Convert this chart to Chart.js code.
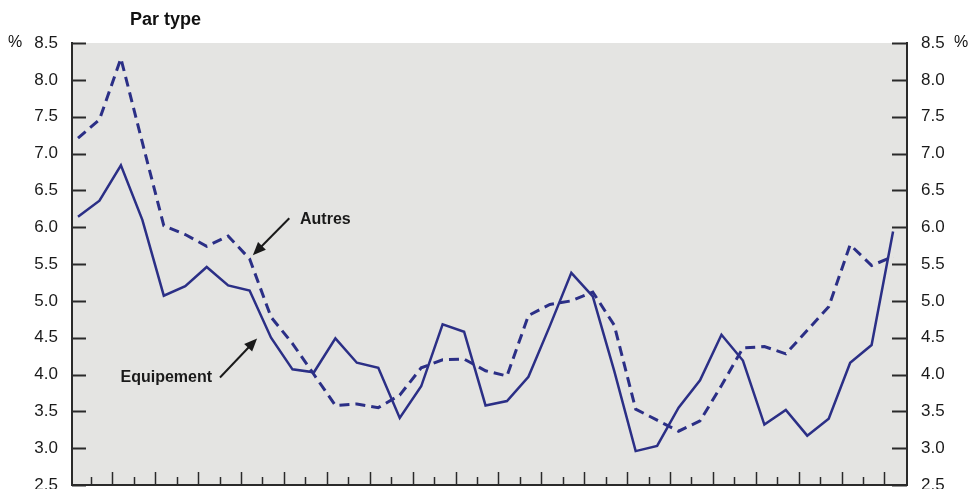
<!DOCTYPE html>
<html>
<head>
<meta charset="utf-8">
<script src="https://cdn.jsdelivr.net/npm/chart.js@4.4.1/dist/chart.umd.min.js"></script>
<style>
  html, body { margin: 0; padding: 0; background: #fff; }
  #wrap { width: 970px; height: 489px; position: relative; }
</style>
</head>
<body>
<div id="wrap"><canvas id="chart"></canvas></div>
<script>
// ---------------------------
//   DONNÉES
// ---------------------------
const title = "Par type";

const equipement = [
  6.14, 6.36, 6.84, 6.10, 5.07, 5.20, 5.46, 5.21, 5.14, 4.50,
  4.07, 4.03, 4.49, 4.16, 4.09, 3.41, 3.84, 4.68, 4.58, 3.58,
  3.64, 3.97, 4.66, 5.38, 5.06, 4.05, 2.96, 3.03, 3.55, 3.92,
  4.54, 4.19, 3.32, 3.52, 3.17, 3.40, 4.16, 4.40, 5.94
];

const autres = [
  7.21, 7.46, 8.29, 7.15, 6.02, 5.90, 5.74, 5.88, 5.57, 4.78,
  4.42, 4.00, 3.58, 3.60, 3.55, 3.72, 4.09, 4.20, 4.21, 4.05,
  3.98, 4.80, 4.95, 5.00, 5.12, 4.67, 3.53, 3.38, 3.23, 3.37,
  3.85, 4.36, 4.38, 4.28, 4.60, 4.92, 5.76, 5.48, 5.60
];

const yTicks = [2.5, 3.0, 3.5, 4.0, 4.5, 5.0, 5.5, 6.0, 6.5, 7.0, 7.5, 8.0, 8.5];

// étiquettes avec flèche : texte, position du texte, pointe de flèche (en coordonnées de données)
const labelAutres     = { text: "Autres",     tx: 10.35, ty: 6.10, ax0: 9.85, ay0: 6.12, ax1: 8.15, ay1: 5.62, align: "left" };
const labelEquipement = { text: "Equipement", tx: 6.25,  ty: 3.96, ax0: 6.62, ay0: 3.96, ax1: 8.35, ay1: 4.49, align: "right" };

const LINE_COLOR = "#2b2f86";
const AXIS_COLOR = "#2a2a2a";
const PLOT_BG    = "#e4e4e2";
const AXIS_FONT  = "'Liberation Sans Narrow', 'Arial Narrow', Arial, sans-serif";
const BOLD_FONT  = "'Liberation Sans', Arial, Helvetica, sans-serif";

const toPoints = (arr) => arr.map((v, i) => ({ x: i, y: v }));

// ---------------------------
//   PLUGIN : fond, graduations intérieures, textes
// ---------------------------
const decorPlugin = {
  id: "decor",
  beforeDraw(chart) {
    const { ctx, chartArea: a } = chart;
    ctx.save();
    ctx.fillStyle = PLOT_BG;
    ctx.fillRect(a.left, a.top, a.right - a.left, a.bottom - a.top);
    ctx.restore();
  },
  afterDraw(chart) {
    const { ctx, chartArea: a } = chart;
    const xs = chart.scales.x;
    const yl = chart.scales.y;
    ctx.save();
    ctx.strokeStyle = AXIS_COLOR;
    ctx.lineWidth = 2;

    // graduations Y vers l'intérieur
    yTicks.forEach((v) => {
      const py = Math.round(yl.getPixelForValue(v)) + 0.5;
      ctx.beginPath();
      ctx.moveTo(a.left, py); ctx.lineTo(a.left + 14, py);
      ctx.moveTo(a.right, py); ctx.lineTo(a.right - 15, py);
      ctx.stroke();
    });

    // graduations X : entre les périodes, alternées courtes / longues
    ctx.lineWidth = 1.5;
    for (let i = 1; i < equipement.length; i++) {
      const px = Math.round(xs.getPixelForValue(i - 0.4)) + 0.5;
      const len = i % 2 === 0 ? 13 : 8;
      ctx.beginPath();
      ctx.moveTo(px, a.bottom); ctx.lineTo(px, a.bottom - len);
      ctx.stroke();
    }

    // titre et unités
    ctx.fillStyle = "#111";
    ctx.font = "bold 18px " + BOLD_FONT;
    ctx.textAlign = "left";
    ctx.textBaseline = "middle";
    ctx.fillText(title, 130, 20);

    ctx.font = "16px " + AXIS_FONT;
    const pTop = yl.getPixelForValue(8.5);
    ctx.textAlign = "center";
    ctx.fillText("%", 15, pTop);
    ctx.fillText("%", 961, pTop);

    // étiquettes avec flèches
    [labelAutres, labelEquipement].forEach((l) => {
      ctx.font = "bold 16px " + BOLD_FONT;
      ctx.textAlign = l.align;
      ctx.textBaseline = "middle";
      ctx.fillStyle = "#1a1a1a";
      ctx.fillText(l.text, xs.getPixelForValue(l.tx), yl.getPixelForValue(l.ty));

      const x0 = xs.getPixelForValue(l.ax0), y0 = yl.getPixelForValue(l.ay0);
      const x1 = xs.getPixelForValue(l.ax1), y1 = yl.getPixelForValue(l.ay1);
      const ang = Math.atan2(y1 - y0, x1 - x0);
      ctx.strokeStyle = "#1a1a1a";
      ctx.lineWidth = 2;
      ctx.beginPath();
      ctx.moveTo(x0, y0);
      ctx.lineTo(x1 - 8 * Math.cos(ang), y1 - 8 * Math.sin(ang));
      ctx.stroke();
      ctx.beginPath();
      ctx.moveTo(x1, y1);
      ctx.lineTo(x1 - 13 * Math.cos(ang) + 5.5 * Math.sin(ang), y1 - 13 * Math.sin(ang) - 5.5 * Math.cos(ang));
      ctx.lineTo(x1 - 13 * Math.cos(ang) - 5.5 * Math.sin(ang), y1 - 13 * Math.sin(ang) + 5.5 * Math.cos(ang));
      ctx.closePath();
      ctx.fill();
    });
    ctx.restore();
  }
};

// ---------------------------
//   GRAPHIQUE
// ---------------------------
const yAxisCommon = {
  type: "linear",
  min: 2.5,
  max: 8.5,
  afterBuildTicks: (scale) => { scale.ticks = yTicks.map((v) => ({ value: v })); },
  grid: { display: false, drawTicks: false },
  border: { display: true, color: AXIS_COLOR, width: 2 },
  ticks: {
    color: "#1a1a1a",
    font: { family: AXIS_FONT, size: 17 },
    padding: 14,
    callback: (v) => Number(v).toFixed(1)
  }
};

function fixWidth(w) {
  return (scale) => {
    scale.width = w;
    scale.paddingTop = 0;
    scale.paddingBottom = 0;
  };
}

new Chart(document.getElementById("chart"), {
  type: "line",
  data: {
    datasets: [
      {
        label: "Equipement",
        data: toPoints(equipement),
        borderColor: LINE_COLOR,
        borderWidth: 2.5,
        pointRadius: 0,
        tension: 0,
        yAxisID: "y"
      },
      {
        label: "Autres",
        data: toPoints(autres),
        borderColor: LINE_COLOR,
        borderWidth: 3,
        borderDash: [10, 6],
        pointRadius: 0,
        tension: 0,
        yAxisID: "y"
      }
    ]
  },
  options: {
    responsive: true,
    maintainAspectRatio: false,
    animation: false,
    layout: { padding: { top: 43, left: 0, right: 0, bottom: 0 } },
    plugins: {
      legend: { display: false },
      tooltip: { enabled: false },
      title: { display: false }
    },
    scales: {
      x: {
        type: "linear",
        min: -0.28,
        max: 38.65,
        grid: { display: false, drawTicks: false },
        border: { display: true, color: AXIS_COLOR, width: 2 },
        ticks: { display: false },
        afterFit: (scale) => {
          scale.height = 4;
          scale.paddingLeft = 0;
          scale.paddingRight = 0;
        }
      },
      y: Object.assign({}, yAxisCommon, {
        position: "left",
        afterFit: fixWidth(72)
      }),
      y2: Object.assign({}, yAxisCommon, {
        position: "right",
        afterFit: fixWidth(63)
      })
    }
  },
  plugins: [decorPlugin]
});
</script>
</body>
</html>
